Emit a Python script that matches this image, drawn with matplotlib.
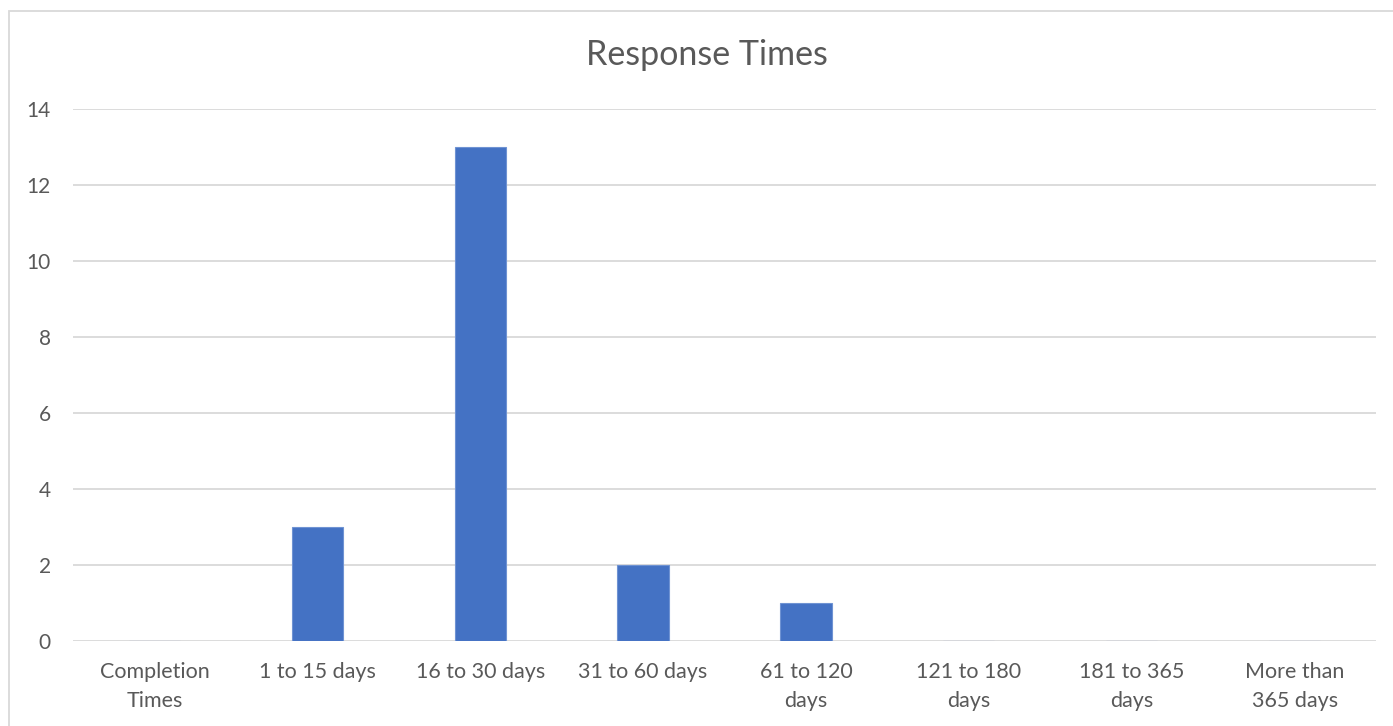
import matplotlib.pyplot as plt
from matplotlib.patches import Rectangle

# response-time buckets and counts
categories = ['Completion\nTimes', '1 to 15 days', '16 to 30 days', '31 to 60 days',
              '61 to 120\ndays', '121 to 180\ndays', '181 to 365\ndays', 'More than\n365 days']
counts = [0, 3, 13, 2, 1, 0, 0, 0]
yticks = [0, 2, 4, 6, 8, 10, 12, 14]

plt.rcParams['font.family'] = ['Lato', 'DejaVu Sans']
txt = '#595959'

fig = plt.figure(figsize=(13.93, 7.26), dpi=100)
ax = fig.add_axes([73 / 1393, 85 / 726, 1303 / 1393, 532 / 726])

x = range(len(categories))
ax.bar(x, counts, width=0.315, color='#4472C4', edgecolor='#6F93D3', linewidth=0.8, zorder=3)

ax.set_xlim(-0.5, len(categories) - 0.5)
ax.set_ylim(0, 14)
ax.set_yticks(yticks)
ax.set_xticks(list(x))
ax.set_xticklabels(categories, fontsize=15.5, color=txt, linespacing=1.6)
ax.set_yticklabels([str(v) for v in yticks], fontsize=15, color=txt)
ax.tick_params(axis='y', length=0, pad=16)
ax.tick_params(axis='x', length=0, pad=15)
ax.grid(axis='y', color='#D9D9D9', linewidth=1.3, zorder=0)
for s in ax.spines.values():
    s.set_visible(False)

fig.text(707 / 1393, 1 - 55 / 726, 'Response Times', ha='center', va='center',
         fontsize=24.5, color=txt)

# chart frame
fig.patches.append(Rectangle((9 / 1393, -0.05), 1.2, 1 - 11 / 726 + 0.05,
                             transform=fig.transFigure, fill=False,
                             edgecolor='#D9D9D9', linewidth=1.3))

fig.savefig('out.png', dpi=100)
